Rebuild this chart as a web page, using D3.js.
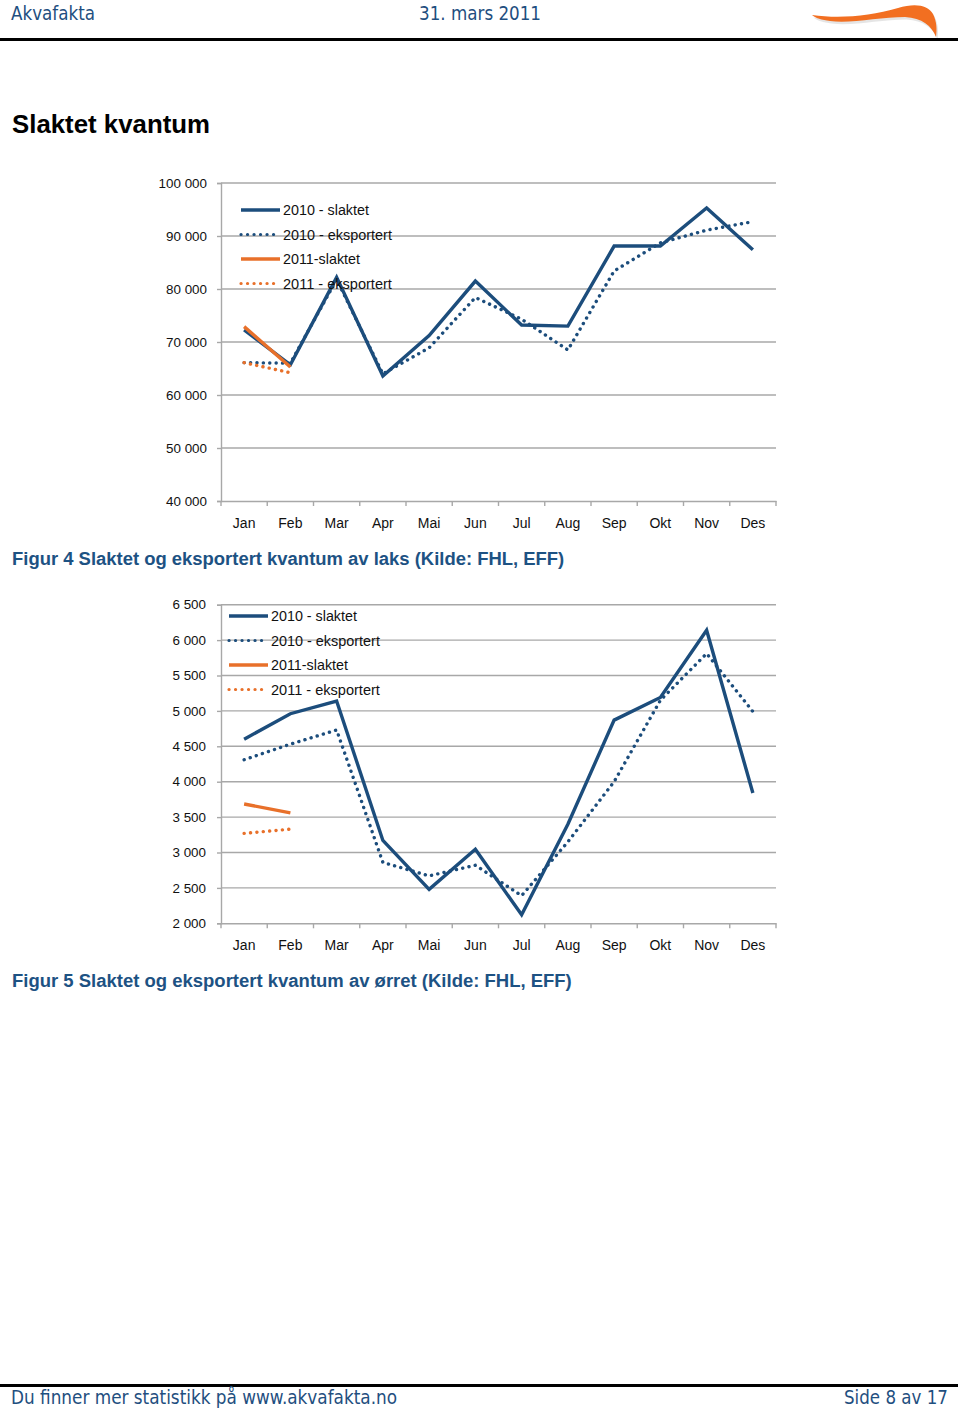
<!DOCTYPE html>
<html><head><meta charset="utf-8">
<script src="https://cdn.jsdelivr.net/npm/d3@7"></script>
<style>
html,body{margin:0;padding:0;background:#fff;}
svg{display:block;}
</style>
</head><body>
<script>
// ---------- DATA ----------
const months = ["Jan","Feb","Mar","Apr","Mai","Jun","Jul","Aug","Sep","Okt","Nov","Des"];
const seriesNames = ["2010 - slaktet","2010 - eksportert","2011-slaktet","2011 - eksportert"];

const laksTicks = [40000,50000,60000,70000,80000,90000,100000];
const laks2010Slaktet    = [72300,65700,82200,63600,71200,81500,73200,73000,88100,88100,95300,87400];
const laks2010Eksportert = [66100,66000,81800,64000,68900,78400,74300,68500,83400,88700,91100,92700];
const laks2011Slaktet    = [72900,65300];
const laks2011Eksportert = [66100,64200];

const orretTicks = [2000,2500,3000,3500,4000,4500,5000,5500,6000,6500];
const orret2010Slaktet    = [4600,4960,5140,3170,2480,3045,2120,3400,4870,5190,6140,3840];
const orret2010Eksportert = [4310,4530,4730,2860,2670,2820,2390,3150,4000,5150,5810,4990];
const orret2011Slaktet    = [3685,3560];
const orret2011Eksportert = [3270,3330];

// ---------- STYLE ----------
const BLUE = "#1c4d7c", ORANGE = "#e8702a", GRID = "#a8a8a8", CAP = "#1d5283", HEAD = "#1f4f80";
const seriesStyle = [
  {color:BLUE, dotted:false},
  {color:BLUE, dotted:true},
  {color:ORANGE, dotted:false},
  {color:ORANGE, dotted:true}
];

const W = 960, H = 1409;
const svg = d3.select("body").append("svg").attr("width",W).attr("height",H);

const fmt = v => d3.format(",")(v).replace(/,/g," ");

function fitText(sel, target){
  const n = sel.node();
  const fs = parseFloat(sel.attr("font-size"));
  const w = n.getComputedTextLength();
  if (w>0) sel.attr("font-size", (fs*target/w).toFixed(2));
}

// ---------- HEADER / FOOTER ----------
const headFont = "'DejaVu Sans Condensed','DejaVu Sans',Verdana,sans-serif";
fitText(svg.append("text").attr("x",11).attr("y",20).attr("font-family",headFont).attr("font-size",17)
  .attr("fill",HEAD).text("Akvafakta"), 84);
fitText(svg.append("text").attr("x",419).attr("y",20).attr("font-family",headFont).attr("font-size",17)
  .attr("fill",HEAD).text("31. mars 2011"), 122);
const swoosh = "M812,15 C840,19 870,16 898,8 C915,3 928,5 933,14 C937,22 937,30 936,37 C932,26 922,18 905,17 C880,17 850,24 830,21 C822,20 815,18 812,15 Z";
svg.append("path").attr("d",swoosh).attr("fill","#cfcfcf").attr("opacity",0.55).attr("transform","translate(1.5,2.5)");
svg.append("path").attr("d",swoosh).attr("fill","#f26f21");
svg.append("rect").attr("x",0).attr("y",38).attr("width",958).attr("height",3).attr("fill","#000");

svg.append("rect").attr("x",0).attr("y",1384).attr("width",958).attr("height",3).attr("fill","#000");
fitText(svg.append("text").attr("x",11).attr("y",1404).attr("font-family",headFont).attr("font-size",17)
  .attr("fill",HEAD).text("Du finner mer statistikk på www.akvafakta.no"), 386);
fitText(svg.append("text").attr("x",844).attr("y",1404).attr("font-family",headFont).attr("font-size",17)
  .attr("fill",HEAD).text("Side 8 av 17"), 104);

// ---------- TITLE ----------
fitText(svg.append("text").attr("x",12).attr("y",133).attr("font-family","'Liberation Sans',Arial,sans-serif")
  .attr("font-size",26).attr("font-weight","bold").attr("fill","#000").text("Slaktet kvantum"), 198);

// ---------- CHART ----------
function drawChart(cfg){
  const g = svg.append("g");
  const x = d3.scaleBand().domain(months).range([cfg.left, cfg.right]);
  const cx = m => x(m) + x.bandwidth()/2;
  const y = d3.scaleLinear().domain([cfg.ticks[0], cfg.ticks[cfg.ticks.length-1]]).range([cfg.bottom, cfg.top]);
  const font = "'Liberation Sans',Arial,sans-serif";

  // gridlines
  g.selectAll("line.grid").data(cfg.ticks.slice(1)).join("line")
    .attr("x1",cfg.left).attr("x2",cfg.right)
    .attr("y1",d=>y(d)).attr("y2",d=>y(d))
    .attr("stroke",GRID).attr("stroke-width",1.4);

  // y axis
  const ya = g.append("g").attr("transform",`translate(${cfg.left},0)`)
    .call(d3.axisLeft(y).tickValues(cfg.ticks).tickFormat(fmt).tickSize(4).tickPadding(cfg.yPad));
  ya.select(".domain").attr("stroke",GRID).attr("stroke-width",1.4);
  ya.selectAll(".tick line").attr("stroke",GRID).attr("stroke-width",1.4);
  ya.selectAll(".tick text").attr("font-family",font).attr("font-size",13.4).attr("fill","#111");

  // x axis
  const xa = g.append("g").attr("transform",`translate(0,${cfg.bottom})`)
    .call(d3.axisBottom(x).tickSize(0).tickPadding(cfg.xPad));
  xa.select(".domain").attr("stroke",GRID).attr("stroke-width",1.4);
  xa.selectAll(".tick text").attr("font-family",font).attr("font-size",14).attr("fill","#111");
  // boundary tick marks
  const bounds = months.map(m=>x(m)).concat([cfg.right]);
  g.selectAll("line.xt").data(bounds).join("line")
    .attr("x1",d=>d).attr("x2",d=>d).attr("y1",cfg.bottom).attr("y2",cfg.bottom+5)
    .attr("stroke",GRID).attr("stroke-width",1.4);

  // lines
  const line = d3.line().x((d,i)=>cx(months[i])).y(d=>y(d));
  const order = [1,0,3,2];
  order.forEach(k=>{
    const st = seriesStyle[k];
    g.append("path").datum(cfg.series[k])
      .attr("d",line).attr("fill","none").attr("stroke",st.color)
      .attr("stroke-width", st.dotted?3.4:3.4)
      .attr("stroke-linejoin","miter")
      .attr("stroke-linecap", st.dotted?"round":"butt")
      .attr("stroke-dasharray", st.dotted?"0.1,6.3":null);
  });

  // legend
  const lg = g.append("g");
  seriesNames.forEach((name,k)=>{
    const st = seriesStyle[k];
    const yy = cfg.legY + k*24.5;
    lg.append("line").attr("x1",cfg.legX).attr("x2",cfg.legX+39).attr("y1",yy).attr("y2",yy)
      .attr("stroke",st.color).attr("stroke-width",st.dotted?3.2:3.4)
      .attr("stroke-linecap",st.dotted?"round":"butt")
      .attr("stroke-dasharray",st.dotted?"0.1,6.4":null);
    fitText(lg.append("text").attr("x",cfg.legX+42).attr("y",yy+5)
      .attr("font-family",font).attr("font-size",14).attr("fill","#111").text(name),
      [86,109,77,109][k]);
  });

  // caption
  fitText(svg.append("text").attr("x",12).attr("y",cfg.capY)
    .attr("font-family",font).attr("font-size",18).attr("font-weight","bold")
    .attr("fill",CAP).text(cfg.caption), cfg.capW);
}

drawChart({
  left:221, right:776, top:183, bottom:501, ticks:laksTicks, yPad:10, xPad:17,
  series:[laks2010Slaktet, laks2010Eksportert, laks2011Slaktet, laks2011Eksportert],
  legX:241, legY:210, capY:565, capW:553,
  caption:"Figur 4 Slaktet og eksportert kvantum av laks (Kilde: FHL, EFF)"
});
drawChart({
  left:221, right:776, top:604.7, bottom:923.3, ticks:orretTicks, yPad:11, xPad:17,
  series:[orret2010Slaktet, orret2010Eksportert, orret2011Slaktet, orret2011Eksportert],
  legX:229, legY:616, capY:987, capW:560,
  caption:"Figur 5 Slaktet og eksportert kvantum av ørret (Kilde: FHL, EFF)"
});
</script>
</body></html>
